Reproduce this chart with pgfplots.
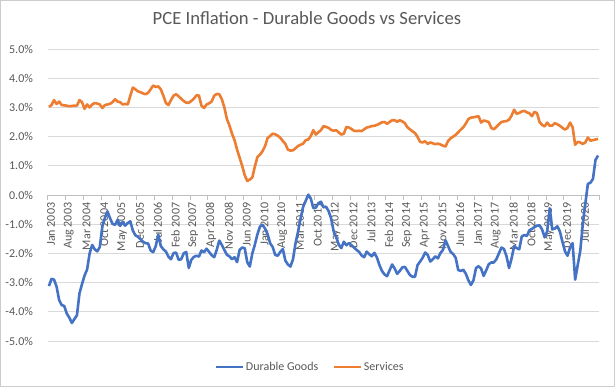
\documentclass[border=0pt]{standalone}
\usepackage{pgfplots}
\pgfplotsset{compat=1.18}
\usepackage{pgfplotstable}
\usepackage{fontspec}
\setmainfont{Carlito}
\definecolor{dblue}{HTML}{4472C4}
\definecolor{sorange}{HTML}{ED7D31}
\definecolor{txt}{HTML}{595959}
\definecolor{gridc}{HTML}{D9D9D9}
\pgfplotsset{
  layers/excel/.define layer set={axis background,axis grid,axis ticks,axis lines,axis tick labels,main,axis descriptions,axis foreground}{},
}

\pgfplotstableread{
i dur serv
0 -3.12 3.02
1 -2.87 3.08
2 -2.90 3.25
3 -3.14 3.12
4 -3.60 3.20
5 -3.77 3.08
6 -3.80 3.07
7 -4.06 3.06
8 -4.20 3.04
9 -4.38 3.05
10 -4.25 3.06
11 -4.12 3.06
12 -3.37 3.25
13 -3.05 3.18
14 -2.76 2.95
15 -2.55 3.10
16 -2.00 3.00
17 -1.71 3.10
18 -1.86 3.15
19 -1.93 3.13
20 -1.78 3.10
21 -1.08 2.98
22 -0.79 3.08
23 -0.56 3.10
24 -0.79 3.12
25 -0.99 3.18
26 -1.02 3.28
27 -0.85 3.20
28 -1.06 3.18
29 -0.92 3.10
30 -1.05 3.12
31 -0.96 3.10
32 -0.90 3.40
33 -1.22 3.68
34 -1.38 3.62
35 -1.43 3.55
36 -1.52 3.52
37 -1.60 3.48
38 -1.65 3.45
39 -1.66 3.50
40 -1.90 3.62
41 -1.96 3.75
42 -1.75 3.70
43 -1.36 3.72
44 -1.75 3.62
45 -1.86 3.40
46 -1.94 3.15
47 -2.11 3.08
48 -2.20 3.25
49 -1.99 3.40
50 -1.97 3.45
51 -2.22 3.38
52 -2.20 3.30
53 -2.00 3.22
54 -1.95 3.16
55 -2.50 3.16
56 -2.22 3.22
57 -2.12 3.30
58 -2.08 3.41
59 -2.11 3.41
60 -1.90 3.06
61 -1.96 2.98
62 -1.84 3.10
63 -1.95 3.14
64 -2.06 3.20
65 -2.13 3.40
66 -1.88 3.46
67 -1.56 3.45
68 -1.71 3.28
69 -1.88 3.00
70 -2.05 2.60
71 -2.10 2.38
72 -2.20 2.10
73 -2.13 1.88
74 -2.30 1.55
75 -1.88 1.28
76 -1.80 1.00
77 -1.82 0.68
78 -2.30 0.48
79 -2.45 0.53
80 -2.00 0.60
81 -1.70 0.98
82 -1.35 1.30
83 -1.08 1.38
84 -1.02 1.50
85 -1.15 1.67
86 -1.34 1.95
87 -1.65 2.02
88 -1.78 2.10
89 -2.05 2.08
90 -2.08 2.03
91 -1.95 1.96
92 -1.85 1.85
93 -2.25 1.75
94 -2.38 1.55
95 -2.45 1.52
96 -2.20 1.53
97 -1.65 1.60
98 -1.25 1.68
99 -0.80 1.72
100 -0.40 1.76
101 -0.20 1.88
102 0.01 1.90
103 -0.12 2.02
104 -0.45 2.22
105 -0.43 2.07
106 -0.28 2.15
107 -0.23 2.22
108 -0.42 2.36
109 -0.40 2.33
110 -0.55 2.30
111 -0.80 2.23
112 -1.25 2.20
113 -1.45 2.22
114 -1.70 2.14
115 -1.82 2.07
116 -1.60 2.10
117 -1.72 2.33
118 -1.65 2.31
119 -1.72 2.26
120 -1.80 2.20
121 -1.88 2.19
122 -1.95 2.20
123 -2.07 2.19
124 -2.13 2.25
125 -1.94 2.31
126 -2.03 2.33
127 -2.10 2.36
128 -1.98 2.37
129 -2.14 2.40
130 -2.40 2.44
131 -2.60 2.49
132 -2.72 2.50
133 -2.78 2.44
134 -2.58 2.50
135 -2.38 2.56
136 -2.52 2.56
137 -2.70 2.51
138 -2.60 2.56
139 -2.48 2.52
140 -2.46 2.46
141 -2.60 2.32
142 -2.74 2.25
143 -2.80 2.18
144 -2.80 2.12
145 -2.40 1.99
146 -2.28 1.82
147 -2.15 1.80
148 -1.97 1.84
149 -2.05 1.75
150 -2.28 1.80
151 -2.20 1.77
152 -2.10 1.74
153 -2.17 1.76
154 -1.99 1.73
155 -1.88 1.69
156 -1.55 1.66
157 -1.75 1.85
158 -1.95 1.94
159 -2.02 2.00
160 -2.15 2.06
161 -2.57 2.15
162 -2.60 2.24
163 -2.56 2.32
164 -2.70 2.45
165 -2.92 2.60
166 -3.08 2.65
167 -2.92 2.66
168 -2.50 2.68
169 -2.44 2.70
170 -2.52 2.48
171 -2.77 2.55
172 -2.58 2.53
173 -2.37 2.50
174 -2.31 2.30
175 -2.31 2.25
176 -2.20 2.33
177 -2.00 2.42
178 -1.80 2.50
179 -1.85 2.52
180 -2.10 2.53
181 -2.50 2.58
182 -2.17 2.72
183 -1.75 2.92
184 -1.82 2.78
185 -1.86 2.81
186 -1.42 2.86
187 -1.37 2.88
188 -1.40 2.83
189 -1.21 2.80
190 -1.16 2.70
191 -1.10 2.85
192 -1.05 2.80
193 -1.04 2.50
194 -1.18 2.40
195 -1.45 2.35
196 -1.24 2.48
197 -0.45 2.37
198 -1.18 2.38
199 -1.15 2.46
200 -1.07 2.42
201 -1.25 2.37
202 -1.60 2.30
203 -1.93 2.24
204 -2.08 2.30
205 -1.80 2.48
206 -1.65 2.32
207 -2.90 1.72
208 -2.40 1.82
209 -1.92 1.80
210 -1.00 1.75
211 -0.30 1.80
212 0.38 1.97
213 0.42 1.86
214 0.55 1.88
215 1.20 1.90
216 1.35 1.92
}\pcedata

\begin{document}
\begin{tikzpicture}
\fill[white] (-47.7bp,-46bp) rectangle (567.3bp,341bp);
\begin{axis}[
  set layers=excel,
  scale only axis, width=551.6bp, height=292bp,
  xmin=-0.5, xmax=216.5, ymin=-5, ymax=5,
  axis x line=middle, axis y line=left,
  axis line style={-},
  y axis line style={draw=none},
  x axis line style={draw=black!25, line width=0.75bp},
  hide obscured x ticks=false, hide obscured y ticks=false,
  ytick={-5,-4,...,5},
  yticklabels={-5.0\%,-4.0\%,-3.0\%,-2.0\%,-1.0\%,0.0\%,1.0\%,2.0\%,3.0\%,4.0\%,5.0\%},
  ymajorgrids, major y grid style={draw=gridc, line width=0.75bp},
  ytick style={draw=none},
  yticklabel style={font=\fontsize{12bp}{14bp}\selectfont, text=txt, anchor=east, xshift=-7bp},
  xtick={0,7,...,210},
  xticklabels={Jan 2003,Aug 2003,Mar 2004,Oct 2004,May 2005,Dec 2005,Jul 2006,Feb 2007,Sep 2007,Apr 2008,Nov 2008,Jun 2009,Jan 2010,Aug 2010,Mar 2011,Oct 2011,May 2012,Dec 2012,Jul 2013,Feb 2014,Sep 2014,Apr 2015,Nov 2015,Jun 2016,Jan 2017,Aug 2017,Mar 2018,Oct 2018,May 2019,Dec 2019,Jul 2020},
  xticklabel style={rotate=90, anchor=east, font=\fontsize{12bp}{14bp}\selectfont, text=txt, yshift=-2bp},
  major x tick style={draw=none},
  minor xtick={-0.5,6.5,...,216.5},
  minor x tick style={draw=black!25, line width=0.75bp},
  minor tick length=5bp,
  tick align=outside,
  title={PCE Inflation - Durable Goods vs Services},
  title style={at={(0.47,1)}, anchor=center, yshift=25bp, font=\fontsize{18.67bp}{22bp}\selectfont, text=txt},
  legend columns=2,
  legend style={at={(0.4755,-0.089)}, anchor=center, draw=none, fill=none,
    font=\fontsize{12bp}{14bp}\selectfont, text=txt,
    /tikz/every even column/.append style={column sep=12bp}},
  legend image code/.code={\draw[#1] (0bp,0bp) -- (27bp,0bp);},
]
\addplot[dblue, line width=2.6bp, line join=round] table[x=i, y=dur] {\pcedata};
\addlegendentry{Durable Goods}
\addplot[sorange, line width=2.6bp, line join=round] table[x=i, y=serv] {\pcedata};
\addlegendentry{Services}
\end{axis}
\draw[black!20, line width=0.75bp] (-47.3bp,-45.6bp) rectangle (566.9bp,340.6bp);
\end{tikzpicture}
\end{document}
